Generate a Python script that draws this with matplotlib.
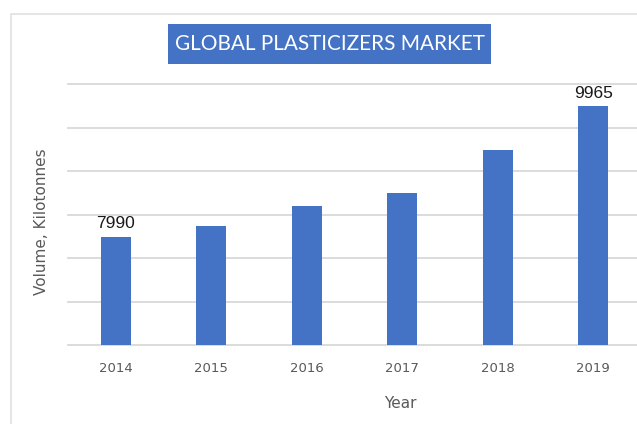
import matplotlib.pyplot as plt
from matplotlib.patches import Rectangle
import numpy as np

years = ['2014', '2015', '2016', '2017', '2018', '2019']
volume = [7990, 8150, 8460, 8650, 9310, 9965]
labelled = {0: '7990', 5: '9965'}

bar_color = '#4472C4'
grid_color = '#D9D9D9'
text_color = '#595959'

fig = plt.figure(figsize=(6.37, 4.24), dpi=100)
W, H = 637, 424

# outer chart border (right and bottom edges run off the image)
fig.patches.append(Rectangle((10.5 / W, -0.5), 2, 1 - 14 / H + 0.5,
                             transform=fig.transFigure, fill=False,
                             edgecolor='#E0E0E0', linewidth=1.2))

ax = fig.add_axes([68 / W, (H - 345) / H, 573 / W, 261 / H])
x = np.arange(len(years))
ax.bar(x, volume, width=0.31, color=bar_color, zorder=3)
ax.set_xlim(-0.5, len(years) - 0.5)
ax.set_ylim(6360, 10300)
ax.set_yticks(np.linspace(6360, 10300, 7))
ax.set_yticklabels([])
ax.grid(axis='y', color=grid_color, linewidth=1.3, zorder=0)
for g in ax.get_ygridlines():
    g.set_clip_on(False)
ax.set_xticks(x)
ax.set_xticklabels(years)
ax.tick_params(length=0, colors=text_color, labelsize=9.5)
ax.tick_params(axis='x', pad=12)
for s in ax.spines.values():
    s.set_visible(False)

for i, t in labelled.items():
    ax.annotate(t, (x[i], volume[i]), xytext=(0, 4), textcoords='offset points',
                ha='center', va='bottom', fontsize=12.5,
                family='Liberation Sans', color='#1a1a1a')

fig.text(41.7 / W, 1 - 221.5 / H, 'Volume, Kilotonnes', rotation=90,
         ha='center', va='center', fontsize=11, color=text_color)
fig.text(400 / W, 1 - 403 / H, 'Year', ha='center', va='center',
         fontsize=11, color=text_color)

# title in a blue box
fig.patches.append(Rectangle((168 / W, 1 - 64 / H), 323 / W, 40 / H,
                             transform=fig.transFigure, facecolor=bar_color,
                             edgecolor='none'))
title = fig.text(329.5 / W, 1 - 44.5 / H, 'GLOBAL PLASTICIZERS MARKET',
                 ha='center', va='center', fontsize=18, color='white',
                 family='Lato')
# shrink the title so it fits the box like the original condensed font
r = fig.canvas.get_renderer()
w = title.get_window_extent(r).width
title.set_fontsize(18 * 310 / w)

fig.savefig('out.png', dpi=100)
